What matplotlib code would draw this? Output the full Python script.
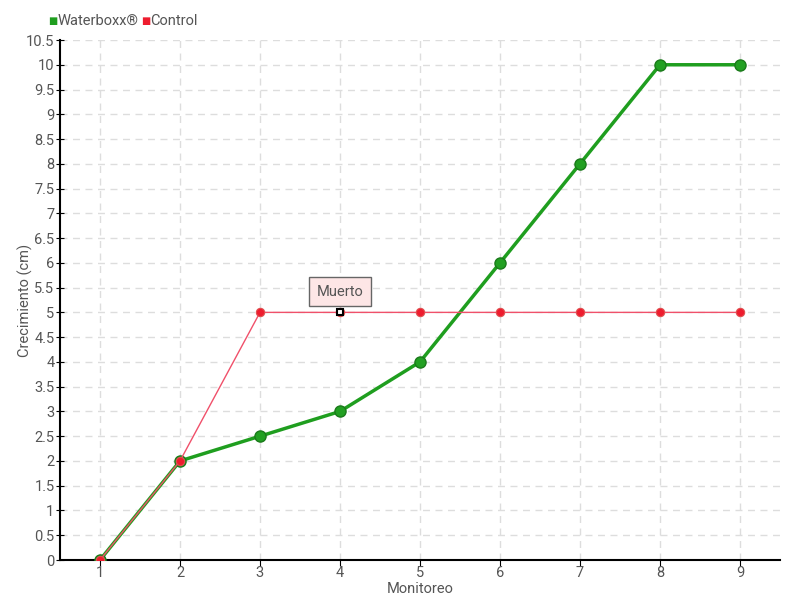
import matplotlib
matplotlib.use("Agg")
import matplotlib.pyplot as plt

monitoreo = [1, 2, 3, 4, 5, 6, 7, 8, 9]
waterboxx = [0, 2, 2.5, 3, 4, 6, 8, 10, 10]
control = [0, 2, 5, 5, 5, 5, 5, 5, 5]
yticks = [i * 0.5 for i in range(22)]
ytick_labels = ["0", "0.5", "1", "1.5", "2", "2.5", "3", "3.5", "4", "4.5", "5",
                "5.5", "6", "6.5", "7", "7.5", "8", "8.5", "9", "9.5", "10", "10.5"]

plt.rcParams['font.family'] = ['Roboto', 'DejaVu Sans']
txt = '#555555'
fs = 10.5

fig = plt.figure(figsize=(8, 6), dpi=100)
ax = fig.add_axes([60 / 800, 40 / 600, 720 / 800, 520 / 600])

green = '#1f9e1f'
red = '#ee1c2e'
ax.plot(monitoreo, waterboxx, color=green, lw=2.5, marker='o', ms=8,
        mfc='#22a022', mec='#1a7a1a', mew=1, zorder=3)
ax.plot(monitoreo, control, color='#f0506a', lw=1, marker='o', ms=6,
        mfc=red, mec='#e05050', mew=0.8, zorder=4)
# dead plant marker
ax.plot([4], [5], marker='s', ms=5, mfc='white', mec='black', mew=1.5, zorder=5)

ax.set_xlim(0.5, 9.5)
ax.set_ylim(0, 10.5)
ax.set_xticks(monitoreo)
ax.set_yticks(yticks)
ax.set_yticklabels(ytick_labels)
ax.grid(True, color='#dddddd', ls=(0, (5, 4)), lw=1)
ax.set_axisbelow(True)
for s in ['top', 'right']:
    ax.spines[s].set_visible(False)
ax.spines['left'].set_linewidth(1.5)
ax.spines['bottom'].set_linewidth(1.5)
ax.tick_params(axis='y', direction='inout', length=6, colors='black',
               labelcolor=txt, labelsize=fs, pad=1)
ax.tick_params(axis='x', direction='out', length=4, colors='black',
               labelcolor=txt, labelsize=fs, pad=0)
ax.set_xlabel('Monitoreo', color=txt, fontsize=fs)
ax.set_ylabel('Crecimiento (cm)', color=txt, fontsize=fs)
ax.xaxis.set_label_coords(0.5, -22 / 520, transform=ax.transAxes)
ax.yaxis.set_label_coords(-27 / 720, 0.5, transform=ax.transAxes)

# tooltip
ax.annotate('Muerto', xy=(4, 5), xytext=(4, 5.42), ha='center', va='center',
            fontsize=fs, color=txt, zorder=6,
            bbox=dict(boxstyle='square,pad=0.5', fc='#fde6e6', ec='#666666', lw=1))

# legend
ly = 1 - 21 / 600
fig.text(48 / 800, ly, '\u25a0', color=green, fontsize=7, va='center', family='DejaVu Sans')
fig.text(58 / 800, ly, 'Waterboxx\u00ae', color=txt, fontsize=fs, va='center')
fig.text(141 / 800, ly, '\u25a0', color=red, fontsize=7, va='center', family='DejaVu Sans')
fig.text(150 / 800, ly, 'Control', color=txt, fontsize=fs, va='center')

fig.savefig('out.png', dpi=100)
